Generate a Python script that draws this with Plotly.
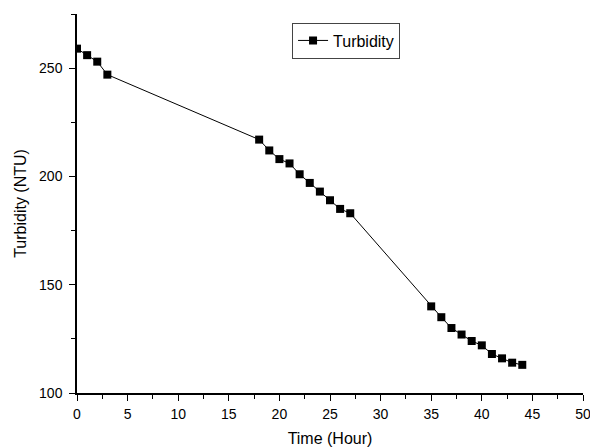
import plotly.graph_objects as go

time_hours = [0, 1, 2, 3, 18, 19, 20, 21, 22, 23, 24, 25, 26, 27,
              35, 36, 37, 38, 39, 40, 41, 42, 43, 44]
turbidity = [259, 256, 253, 247, 217, 212, 208, 206, 201, 197, 193, 189, 185, 183,
             140, 135, 130, 127, 124, 122, 118, 116, 114, 113]

x_ticks = [0, 5, 10, 15, 20, 25, 30, 35, 40, 45, 50]
y_ticks = [100, 150, 200, 250]

fig = go.Figure()
fig.add_trace(go.Scatter(
    x=time_hours, y=turbidity, mode="lines+markers", name="Turbidity",
    line=dict(color="black", width=1),
    marker=dict(symbol="square", size=8, color="black"),
))

axis_font = dict(family="Liberation Sans, Arial", size=14, color="black")
fig.update_layout(
    width=590, height=448,
    margin=dict(l=77, r=7, t=14, b=55),
    paper_bgcolor="white", plot_bgcolor="white",
    font=dict(family="Liberation Sans, Arial", color="black"),
    showlegend=True,
    legend=dict(x=0.425, y=0.930, xanchor="left", yanchor="middle",
                bordercolor="#444", borderwidth=1, bgcolor="white",
                font=dict(size=16, family="Liberation Sans, Arial"),
                tracegroupgap=0),
    xaxis=dict(range=[0, 50], tickvals=x_ticks, ticks="outside", ticklen=6, tickwidth=1.3,
               tickcolor="black", showline=True, linecolor="black", linewidth=1.5,
               showgrid=False, zeroline=False, tickfont=axis_font, automargin=False,
               ticklabeloverflow="allow", ticklabelstandoff=1,
               minor=dict(dtick=2.5, ticks="outside", ticklen=4, tickwidth=1.2, tickcolor="black"),
               title=dict(text="Time (Hour)", font=dict(size=16), standoff=12)),
    yaxis=dict(range=[100, 275], tickvals=y_ticks, ticks="outside", ticklen=6, tickwidth=1.3,
               tickcolor="black", showline=True, linecolor="black", linewidth=1.5,
               showgrid=False, zeroline=False, tickfont=axis_font, automargin=False,
               ticklabelstandoff=4,
               minor=dict(dtick=25, ticks="outside", ticklen=4, tickwidth=1.2, tickcolor="black"),
               title=dict(text="Turbidity (NTU)", font=dict(size=16), standoff=8)),
)

fig.write_html("out.html", config={"displayModeBar": False},
               post_script="document.body.style.margin='0';document.body.style.overflow='hidden';")
